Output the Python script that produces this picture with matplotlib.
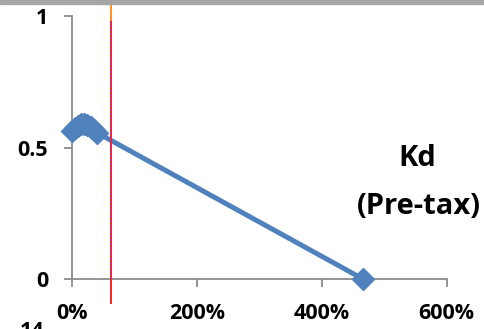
import matplotlib
matplotlib.use('Agg')
import matplotlib.pyplot as plt
from matplotlib.ticker import FuncFormatter

# Datos (ratio D/E en %, Kd antes de impuestos)
de_ratio = [0, 5, 10, 15, 20, 25, 30, 35, 40, 466]
kd_pretax = [0.563, 0.573, 0.582, 0.588, 0.590, 0.587, 0.579, 0.568, 0.557, 0.0]
x_ticks = [0, 200, 400, 600]
y_ticks = [0, 0.5, 1]
marca_vertical = 63

plt.rcParams['font.family'] = ['Open Sans', 'DejaVu Sans']
plt.rcParams['font.weight'] = 'bold'

fig = plt.figure(figsize=(4.85, 3.29), dpi=100)
ax = fig.add_axes([0.148, 0.152, 0.773, 0.799])

# barra gris superior
fig.patches.append(plt.Rectangle((0, 0.988), 1, 0.012, transform=fig.transFigure,
                                 color='#a6a6a6', zorder=0))

ax.plot(de_ratio, kd_pretax, color='#4f81bd', lw=3.6, marker='D', ms=11.5,
        clip_on=False, zorder=3)

# lineas verticales
ax.plot([marca_vertical, marca_vertical], [-0.091, 1.0], color='#ff2020', lw=1.4,
        clip_on=False, zorder=4)
ax.plot([marca_vertical, marca_vertical], [0.0, 1.0], color='#b030a0', lw=1.1,
        ls=(0, (1, 1.5)), clip_on=False, zorder=5)
ax.plot([marca_vertical, marca_vertical], [0.985, 1.042], color='#ff9020', lw=1.4,
        clip_on=False, zorder=6)

ax.set_xlim(0, 600)
ax.set_ylim(0, 1)
ax.set_xticks(x_ticks)
ax.set_yticks(y_ticks)
ax.xaxis.set_major_formatter(FuncFormatter(lambda v, p: f'{int(v)}%'))
ax.yaxis.set_major_formatter(FuncFormatter(lambda v, p: f'{v:g}'))

for s in ['top', 'right']:
    ax.spines[s].set_visible(False)
for s in ['left', 'bottom']:
    ax.spines[s].set_color('#8c8c8c')
    ax.spines[s].set_linewidth(1.3)
ax.tick_params(colors='#8c8c8c', length=6, width=1.3, labelcolor='black',
               labelsize=15.5)
ax.tick_params(axis='y', pad=11)
ax.tick_params(axis='x', pad=11.5)
for lbl in ax.get_xticklabels() + ax.get_yticklabels():
    lbl.set_fontweight('bold')

fig.text(417 / 485, 1 - 158 / 329, 'Kd', ha='center', va='center',
         fontsize=21, fontweight='bold')
fig.text(419 / 485, 1 - 207 / 329, '(Pre-tax)', ha='center', va='center',
         fontsize=21, fontweight='bold')
fig.text(20 / 485, 1 - 321 / 329, '14', ha='left', va='top',
         fontsize=15.5, fontweight='bold')

plt.savefig('out.png', dpi=100)
